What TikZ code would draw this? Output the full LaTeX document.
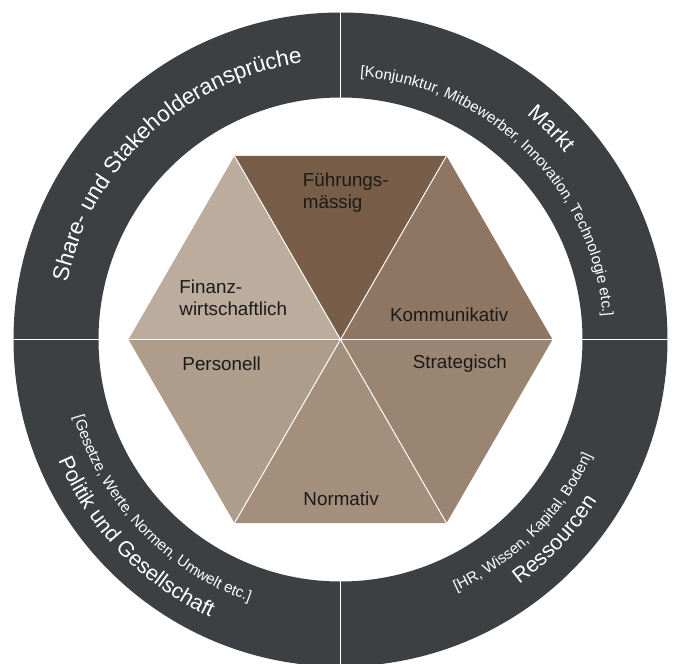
\documentclass[tikz,border=0pt]{standalone}
\usepackage{fontspec}
\setmainfont{Liberation Sans}
\usetikzlibrary{decorations.text}
\definecolor{ringgray}{HTML}{3D4043}
\definecolor{cFuehr}{HTML}{785E48}
\definecolor{cKomm}{HTML}{8F7662}
\definecolor{cStrat}{HTML}{998572}
\definecolor{cNorm}{HTML}{A38F7C}
\definecolor{cPers}{HTML}{AE9D8B}
\definecolor{cFin}{HTML}{BBAC9D}
\definecolor{labelblack}{HTML}{1A1A1A}
\begin{document}
\begin{tikzpicture}[x=1pt,y=1pt,
  hexlabel/.style={anchor=base west, inner sep=0pt, text=labelblack, font=\fontsize{18.8}{22}\selectfont},
  divider/.style={white, line width=1.6pt},
  seam/.style={white, line width=1pt},
  ringtxt/.style={decorate}
]
\clip (-340.5,-324.5) rectangle (334.5,339.5);
\useasboundingbox (-340.5,-324.5) rectangle (334.5,339.5);
\fill[white] (-340.5,-324.5) rectangle (334.5,339.5);

% ring
\coordinate (c) at (0,0);
\fill[ringgray, even odd rule] (c) circle[radius=327] (c) circle[radius=242];
\coordinate (dN1) at (90:241);  \coordinate (dN2) at (90:340);
\coordinate (dS1) at (270:241); \coordinate (dS2) at (270:340);
\coordinate (dW1) at (180:241); \coordinate (dW2) at (180:340);
\coordinate (dE1) at (0:241);   \coordinate (dE2) at (0:340);
\draw[divider] (dN1) -- (dN2);
\draw[divider] (dS1) -- (dS2);
\draw[divider] (dW1) -- (dW2);
\draw[divider] (dE1) -- (dE2);

% hexagon
\foreach \i in {0,...,5} { \coordinate (h\i) at (60*\i:212); }
\fill[cKomm]  (c) -- (h0) -- (h1) -- cycle;
\fill[cFuehr] (c) -- (h1) -- (h2) -- cycle;
\fill[cFin]   (c) -- (h2) -- (h3) -- cycle;
\fill[cPers]  (c) -- (h3) -- (h4) -- cycle;
\fill[cNorm]  (c) -- (h4) -- (h5) -- cycle;
\fill[cStrat] (c) -- (h5) -- (h0) -- cycle;
\foreach \i in {0,...,5} { \draw[seam] (c) -- (h\i); }

% hexagon labels
\node[hexlabel] (fu1) at (-37.8,152.8) {Führungs-};
\node[hexlabel] (fu2) at (-37.8,130.5) {mässig};
\node[hexlabel] (fi1) at (-161.2,45.5) {Finanz-};
\node[hexlabel] (fi2) at (-161.2,23.5) {wirtschaftlich};
\node[hexlabel] (ko) at (49.5,17.8) {Kommunikativ};
\node[hexlabel] (pe) at (-158.2,-30.5) {Personell};
\node[hexlabel] (st) at (72.2,-28.8) {Strategisch};
\node[hexlabel] (no) at (-37.2,-165.5) {Normativ};

% ring texts (top: clockwise, tops outward)
\path[ringtxt, decoration={text along path, text align=center,
  text={|\color{white}\fontsize{22.5}{27}\selectfont|Share- und Stakeholderansprüche}}]
  (193:279) arc[start angle=193, end angle=73, radius=279];
\path[ringtxt, decoration={text along path, text align=center,
  text={|\color{white}\fontsize{22}{26}\selectfont|Markt}}]
  (105:292) arc[start angle=105, end angle=-15, radius=292];
\path[ringtxt, decoration={text along path, text align=center,
  text={|\color{white}\fontsize{15.2}{18}\selectfont|[Konjunktur, Mitbewerber, Innovation, Technologie etc.]}}]
  (105.3:263.5) arc[start angle=105.3, end angle=-14.7, radius=263.5];

% ring texts (bottom: counter-clockwise, tops inward)
\path[ringtxt, decoration={text along path, text align=center,
  text={|\color{white}\fontsize{21.5}{26}\selectfont|Politik und Gesellschaft}}]
  (164:307) arc[start angle=164, end angle=284, radius=307];
\path[ringtxt, decoration={text along path, text align=center,
  text={|\color{white}\fontsize{15.2}{18}\selectfont|[Gesetze, Werte, Normen, Umwelt etc.]}}]
  (163.5:277.5) arc[start angle=163.5, end angle=283.5, radius=277.5];
\path[ringtxt, decoration={text along path, text align=center,
  text={|\color{white}\fontsize{21.5}{26}\selectfont|Ressourcen}}]
  (257:303) arc[start angle=257, end angle=377, radius=303];
\path[ringtxt, decoration={text along path, text align=center,
  text={|\color{white}\fontsize{15.2}{18}\selectfont|[HR, Wissen, Kapital, Boden]}}]
  (255:277) arc[start angle=255, end angle=375, radius=277];
\end{tikzpicture}
\end{document}
